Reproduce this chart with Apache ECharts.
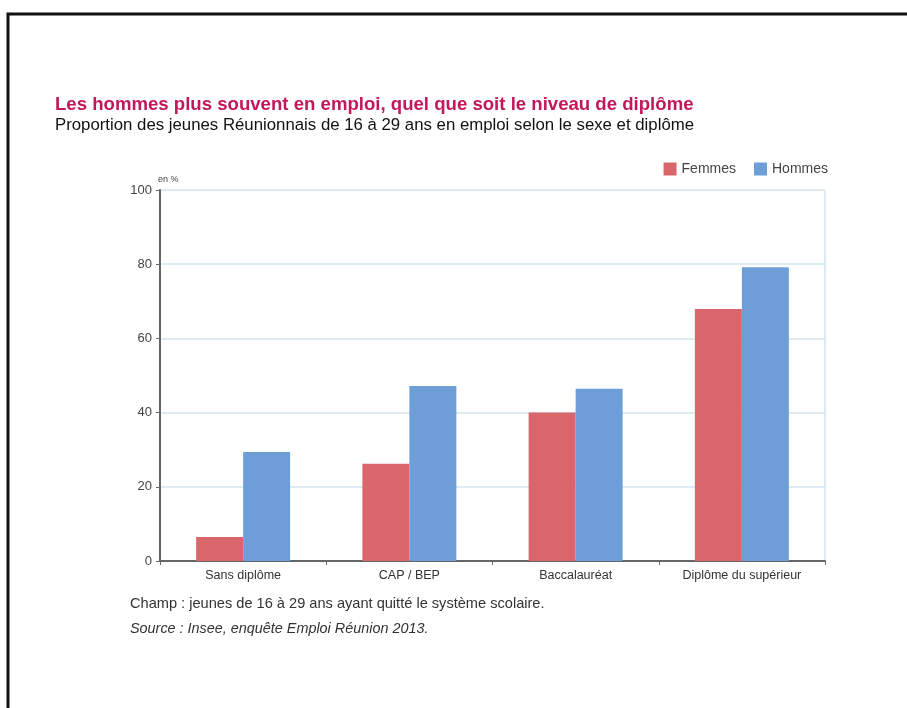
<!DOCTYPE html>
<html>
<head>
<meta charset="utf-8">
<script src="https://cdn.jsdelivr.net/npm/echarts@6/dist/echarts.min.js"></script>
<style>
  html, body { margin: 0; padding: 0; background: #fff; }
  #demo { width: 907px; height: 708px; }
</style>
</head>
<body>
<div id="demo"></div>
<script>
var categories = ['Sans diplôme', 'CAP / BEP', 'Baccalauréat', 'Diplôme du supérieur'];
var femmes = [6.5, 26.2, 40.0, 67.9];
var hommes = [29.4, 47.2, 46.4, 79.2];
var yTicks = [0, 20, 40, 60, 80, 100];

var narrow = "'Liberation Sans Narrow', 'Arial Narrow', 'Liberation Sans', sans-serif";
var sans = "'Liberation Sans', Arial, sans-serif";

window.onload = function() {
    var myCharts = echarts.init(document.getElementById('demo'));
    var option = {
        backgroundColor: '#fff',
        animation: false,
        color: ['#d8666b', '#6e9ed7'],
        title: [{
            text: 'Les hommes plus souvent en emploi, quel que soit le niveau de diplôme',
            left: 55, top: 95, padding: 0,
            textStyle: { color: '#c2185b', fontSize: 18.6, fontWeight: 'bold', fontFamily: sans }
        }, {
            text: 'Proportion des jeunes Réunionnais de 16 à 29 ans en emploi selon le sexe et diplôme',
            left: 55, top: 117, padding: 0,
            textStyle: { color: '#111', fontSize: 16.8, fontWeight: 'normal', fontFamily: sans }
        }],
        legend: {
            right: 74, top: 157,
            itemWidth: 13, itemHeight: 13, itemGap: 18,
            icon: 'rect',
            textStyle: { fontSize: 14, color: '#444', fontFamily: narrow }
        },
        grid: { left: 160, right: 82, top: 190, bottom: 147 },
        xAxis: {
            type: 'category',
            data: categories,
            axisLine: { lineStyle: { color: '#666', width: 2 } },
            axisTick: { show: true, length: 4, lineStyle: { color: '#666' } },
            axisLabel: { color: '#333', fontSize: 12.5, fontFamily: narrow, margin: 8 }
        },
        yAxis: {
            type: 'value',
            min: 0, max: 100, interval: 20,
            name: 'en %',
            nameLocation: 'end',
            nameGap: 6,
            nameTextStyle: { fontSize: 9, color: '#444', fontFamily: narrow, align: 'left', padding: [0, 0, 0, -2] },
            axisLine: { show: true, lineStyle: { color: '#666', width: 2 } },
            axisTick: { show: true, length: 4, lineStyle: { color: '#666' } },
            axisLabel: {
                color: '#444', fontSize: 13, fontFamily: narrow, margin: 8,
                formatter: function(v) { return yTicks.indexOf(v) >= 0 ? String(v) : ''; }
            },
            splitLine: { lineStyle: { color: '#d3e5ef', width: 1.5 } }
        },
        series: [{
            name: 'Femmes',
            type: 'bar',
            data: femmes,
            barWidth: 47,
            barGap: '0%'
        }, {
            name: 'Hommes',
            type: 'bar',
            data: hommes,
            barWidth: 47,
            barGap: '0%'
        }],
        graphic: [{
            type: 'polyline',
            shape: { points: [[8, 708], [8, 14], [907, 14]] },
            style: { stroke: '#111', lineWidth: 3, fill: null }
        }, {
            type: 'line',
            shape: { x1: 825, y1: 190, x2: 825, y2: 561 },
            style: { stroke: '#d3e5ef', lineWidth: 1.5 }
        }, {
            type: 'text',
            left: 130, top: 596,
            style: { text: 'Champ : jeunes de 16 à 29 ans ayant quitté le système scolaire.', fill: '#333', fontSize: 14.6, fontFamily: sans }
        }, {
            type: 'text',
            left: 130, top: 622,
            style: { text: 'Source : Insee, enquête Emploi Réunion 2013.', fill: '#333', fontSize: 14.4, fontStyle: 'italic', fontFamily: sans }
        }]
    };
    myCharts.setOption(option);
};
</script>
</body>
</html>
